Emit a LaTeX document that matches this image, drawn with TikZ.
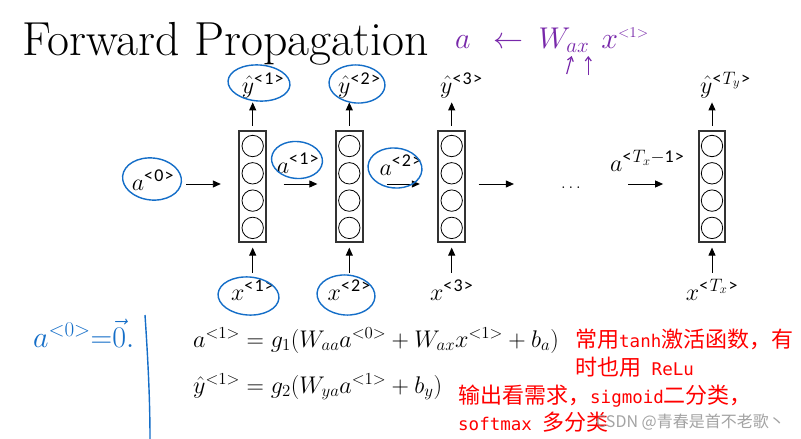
\RequirePackage{fix-cm}
\documentclass[tikz,border=0pt]{standalone}
\usepackage{fontspec}
\usepackage{amsmath}
\usetikzlibrary{arrows.meta}
\newfontfamily\cjkfont{Noto Sans CJK SC}
\newfontfamily\monofont{DejaVu Sans Mono}
\newfontfamily\carlito{Carlito}
\newcommand\rmono[1]{{\monofont\fontsize{17.5}{22}\selectfont #1}}
\newcommand\ssup[1]{^{\hbox{\carlito\fontsize{18}{20}\selectfont <\kern1.2pt#1\kern1.2pt>}}}
\definecolor{hblue}{RGB}{20,110,200}
\definecolor{hpurple}{RGB}{120,40,170}
\definecolor{hred}{RGB}{255,0,0}
\begin{document}
\begin{tikzpicture}[x=1pt,y=-1pt,
  cell/.style={draw=black!80, line width=1.8pt, minimum width=26.7pt, minimum height=111pt, inner sep=0pt},
  unit/.style={draw, circle, line width=0.8pt, minimum size=21.4pt, inner sep=0pt},
  arr/.style={line width=0.9pt, -{Triangle[length=8pt,width=7pt]}},
  lab/.style={font=\fontsize{24}{28}\selectfont, inner sep=0pt},
  hand/.style={draw=hblue, line width=1.4pt},
  redtxt/.style={text=hred, inner sep=0pt, anchor=base west, font=\fontsize{22}{26}\selectfont\cjkfont},
]
\useasboundingbox[fill=white] (0,0) rectangle (801,439);

% title
\node[anchor=base west, inner sep=0pt, font=\fontsize{47.8}{54}\selectfont] (title) at (22,55) {Forward Propagation};

% RNN cells
\foreach \n/\x in {1/252.7,2/349.3,3/451.7,4/712} {
  \node[cell] (b\n) at (\x,186.2) {};
  \foreach \k/\yy in {1/146,2/173.3,3/200.6,4/227.9}
    \node[unit] (c\n\k) at (\x,\yy) {};
  \draw[arr] ([yshift=4pt]b\n.north) -- ([yshift=27.4pt]b\n.north);
  \draw[arr] ([yshift=-30pt]b\n.south) -- ([yshift=-5pt]b\n.south);
}

% labels
\node[lab, anchor=base west] (y1) at (241.7,93) {$\hat{y}\ssup{1}$};
\node[lab, anchor=base west] (y2) at (338,93) {$\hat{y}\ssup{2}$};
\node[lab, anchor=base west] (y3) at (440,93) {$\hat{y}\ssup{3}$};
\node[lab, anchor=base west] (y4) at (700,93) {$\hat{y}\ssup{$T_y$}$};

\node[lab, anchor=base west] (a0) at (131.7,190) {$a\ssup{0}$};
\node[lab, anchor=base west] (a1) at (276.7,173) {$a\ssup{1}$};
\node[lab, anchor=base west] (a2) at (379.3,175) {$a\ssup{2}$};
\node[lab, anchor=base west] (aT) at (610,171.5) {$a\ssup{$T_x{-}$1}$};

\node[lab, anchor=base] (x1) at (252.7,300) {$x\ssup{1}$};
\node[lab, anchor=base] (x2) at (349.3,300) {$x\ssup{2}$};
\node[lab, anchor=base] (x3) at (451.7,300) {$x\ssup{3}$};
\node[lab, anchor=base] (x4) at (712,300) {$x\ssup{$T_x$}$};

\node[anchor=base, inner sep=0pt, font=\fontsize{17}{20}\selectfont] (dots) at (571,188) {$\ldots$};

% horizontal arrows
\draw[arr] ([shift={(-52.35pt,2.2pt)}]b1.west) -- ([shift={(-17.65pt,2.2pt)}]b1.west);
\draw[arr] ([shift={(16.7pt,2.2pt)}]b1.east) -- ([shift={(-17.7pt,2.2pt)}]b2.west);
\draw[arr] ([shift={(23.35pt,2.2pt)}]b2.east) -- ([shift={(-17.65pt,2.2pt)}]b3.west);
\draw[arr] ([shift={(12.65pt,2.2pt)}]b3.east) -- ([shift={(47.95pt,2.2pt)}]b3.east);
\draw[arr] ([shift={(-69.65pt,2.2pt)}]b4.west) -- ([shift={(-34.65pt,2.2pt)}]b4.west);

% equations
\node[anchor=base west, inner sep=0pt, font=\fontsize{24.1}{28}\selectfont] (eq1) at (193,347) {$a^{<1>}=g_1(W_{aa}a^{<0>}+W_{ax}x^{<1>}+b_a)$};
\node[anchor=base west, inner sep=0pt, font=\fontsize{24.1}{28}\selectfont] (eq2) at (193,393) {$\hat{y}^{<1>}=g_2(W_{ya}a^{<1>}+b_y)$};

% red notes
\node[redtxt] (r1) at (575,347.5) {常用\rmono{tanh}激活函数，有};
\node[redtxt] (r2) at (575,375) {时也用\rmono{\ ReLu}};
\node[redtxt] (r3) at (458,403) {输出看需求，\rmono{sigmoid}二分类，};
\node[redtxt] (r4) at (458,430) {\rmono{softmax\ }多分类};

% hand annotations (blue)
\draw[hand] (259,83) ellipse [x radius=31, y radius=18, rotate=-4];
\draw[hand] (357,84) ellipse [x radius=28, y radius=19, rotate=-4];
\draw[hand] (152,179) ellipse [x radius=29.5, y radius=21, rotate=-6];
\draw[hand] (297,160) ellipse [x radius=25.5, y radius=18.5, rotate=-5];
\draw[hand] (395,168) ellipse [x radius=27, y radius=20, rotate=-5];
\draw[hand] (248.5,296) ellipse [x radius=30.5, y radius=19, rotate=-4];
\draw[hand] (346,295) ellipse [x radius=29, y radius=20, rotate=-4];
\node[text=hblue, anchor=base west, inner sep=0pt, font=\fontsize{30}{34}\selectfont] (a0eq) at (33,347) {$a^{\scriptstyle<0>}\mathord{=}\vec{0}.$};
\draw[hand] (145,315) .. controls (148,360) and (150,400) .. (150,439);

% hand annotation (purple)
\node[text=hpurple, anchor=base west, inner sep=0pt, font=\fontsize{30}{34}\selectfont] (pann) at (455,48) {$a\hspace{23pt}{\leftarrow}\hspace{15pt}W_{ax}\hspace{12pt}x^{\scriptscriptstyle<1>}$};
\draw[hpurple, line width=1.2pt, -{Straight Barb[length=4pt,width=6pt]}] (566.7,74) -- (571.7,56);
\draw[hpurple, line width=1.2pt, -{Straight Barb[length=4pt,width=6pt]}] (588.3,75) -- (588.3,56);

% watermark
\node[anchor=base west, inner sep=0pt, text=black!45, opacity=0.8, font=\fontsize{16}{18}\selectfont\cjkfont] (wm) at (596,427) {CSDN @青春是首不老歌丶};
\end{tikzpicture}
\end{document}
